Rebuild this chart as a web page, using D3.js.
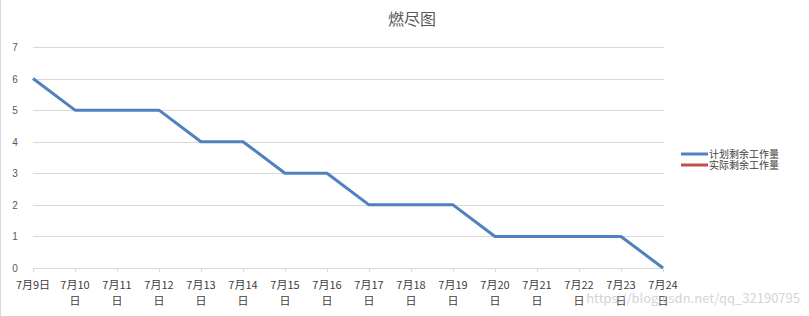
<!DOCTYPE html>
<html>
<head>
<meta charset="utf-8">
<script src="https://cdn.jsdelivr.net/npm/d3@7"></script>
<style>
  body { margin: 0; background: #fff; }
  svg { display: block; font-family: "Noto Sans CJK SC", "DejaVu Sans", sans-serif; }
</style>
</head>
<body>
<div id="chart"></div>
<script>
// burndown data
var dates = ["7月9日", "7月10日", "7月11日", "7月12日", "7月13日", "7月14日", "7月15日", "7月16日",
             "7月17日", "7月18日", "7月19日", "7月20日", "7月21日", "7月22日", "7月23日", "7月24日"];
var planned = [6, 5, 5, 5, 4, 4, 3, 3, 2, 2, 2, 1, 1, 1, 1, 0];
var actual = [];   // no actual values entered
var yTicks = [0, 1, 2, 3, 4, 5, 6, 7];
var seriesNames = ["计划剩余工作量", "实际剩余工作量"];
var colors = ["#4f81bd", "#c0504d"];

var width = 809, height = 316;
var svg = d3.select("#chart").append("svg")
    .attr("width", width)
    .attr("height", height);

// chart area border on the left
svg.append("line")
    .attr("x1", 0.5).attr("x2", 0.5)
    .attr("y1", 0).attr("y2", height)
    .style("stroke", "#d9d9d9");

var x = d3.scalePoint().domain(dates).range([33, 663]);
var y = d3.scaleLinear().domain([0, 7]).range([268, 47]);

svg.append("text")
    .attr("x", 412).attr("y", 25)
    .attr("text-anchor", "middle")
    .style("font-size", "16px")
    .style("fill", "#595959")
    .text("燃尽图");

// gridlines
svg.append("g").selectAll("line")
    .data(yTicks.filter(function(d) { return d > 0; }))
  .enter().append("line")
    .attr("x1", 33).attr("x2", 664)
    .attr("y1", function(d) { return Math.round(y(d)) + 0.5; })
    .attr("y2", function(d) { return Math.round(y(d)) + 0.5; })
    .style("stroke", "#d9d9d9");

// y labels
svg.append("g").selectAll("text")
    .data(yTicks)
  .enter().append("text")
    .attr("x", 15)
    .attr("y", function(d) { return y(d) + 4; })
    .attr("text-anchor", "middle")
    .style("font-size", "10px")
    .style("font-family", "'Liberation Sans', sans-serif")
    .style("fill", "#595959")
    .text(function(d) { return d; });

// x axis
var xAxis = d3.axisBottom(x).tickSize(4).tickFormat("");
var gx = svg.append("g")
    .attr("transform", "translate(0," + (Math.round(y(0)) + 0.5) + ")")
    .call(xAxis);
gx.select(".domain").attr("d", "M33,0H664").style("stroke", "#d9d9d9");
gx.selectAll(".tick line").style("stroke", "#d9d9d9");

// category labels, wrapped like excel does
var lab = svg.append("g").selectAll("text")
    .data(dates)
  .enter().append("text")
    .attr("text-anchor", "middle")
    .style("font-size", "11px")
    .style("fill", "#404040");
lab.each(function(d) {
    var t = d3.select(this);
    var parts = d.length > 4 ? [d.slice(0, d.length - 1), d.slice(-1)] : [d];
    parts.forEach(function(p, i) {
        t.append("tspan")
            .attr("x", x(d))
            .attr("y", 289 + i * 16)
            .text(p);
    });
});

// series lines
var line = d3.line()
    .x(function(d, i) { return x(dates[i]); })
    .y(function(d) { return y(d); });

[planned, actual].forEach(function(s, i) {
    svg.append("path")
        .datum(s)
        .attr("d", line)
        .style("fill", "none")
        .style("stroke", colors[i])
        .style("stroke-width", 3)
        .style("stroke-linejoin", "round");
});

// legend
var leg = svg.append("g").selectAll("g")
    .data(seriesNames)
  .enter().append("g")
    .attr("transform", function(d, i) { return "translate(681," + (154 + i * 11) + ")"; });
leg.append("line")
    .attr("x1", 0).attr("x2", 27)
    .style("stroke", function(d, i) { return colors[i]; })
    .style("stroke-width", 3);
leg.append("text")
    .attr("x", 28).attr("y", 4)
    .style("font-size", "10px")
    .style("fill", "#404040")
    .text(function(d) { return d; });

// source watermark
svg.append("text")
    .attr("x", 800).attr("y", 303)
    .attr("text-anchor", "end")
    .style("font-size", "13px")
    .style("fill", "#c8c8c8")
    .style("fill-opacity", 0.8)
    .text("https://blog.csdn.net/qq_32190795");
</script>
</body>
</html>
